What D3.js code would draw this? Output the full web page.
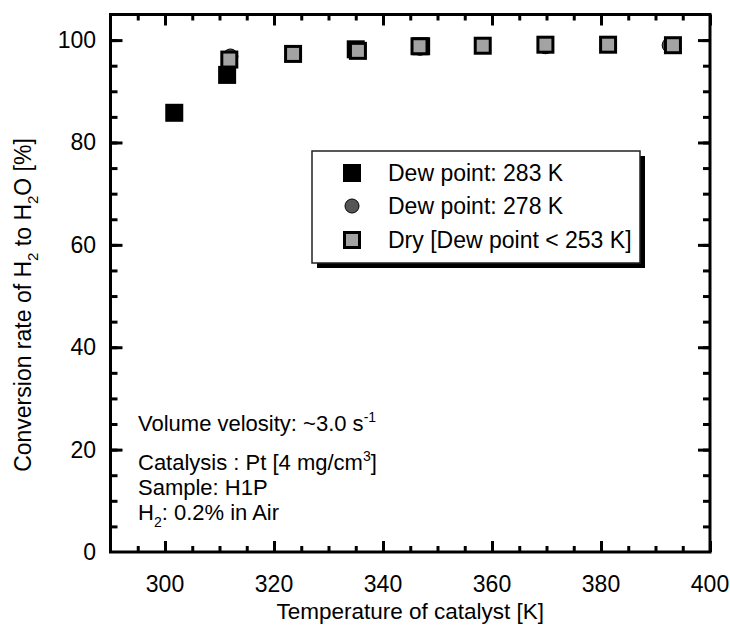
<!DOCTYPE html>
<html>
<head>
<meta charset="utf-8">
<script src="https://cdn.jsdelivr.net/npm/d3@7"></script>
<style>
  body { margin: 0; background: #fff; }
  text { font-family: "Liberation Sans", Arial, sans-serif; fill: #000; }
</style>
</head>
<body>
<div id="chart"></div>
<script>
// data
var dew283Temp = [301.7, 311.4, 335.0, 347.0];
var dew283Conv = [85.8, 93.2, 98.2, 98.8];
var dew278Temp = [312.0, 346.8, 369.8, 392.6];
var dew278Conv = [96.8, 98.5, 98.8, 99.0];
var dryTemp = [311.8, 323.5, 335.4, 346.7, 358.3, 369.8, 381.3, 393.2];
var dryConv = [96.2, 97.3, 97.9, 98.8, 98.9, 99.1, 99.1, 99.0];
var xTickLabels = [300, 320, 340, 360, 380, 400];
var yTickLabels = [0, 20, 40, 60, 80, 100];
var legendLabels = ["Dew point: 283 K", "Dew point: 278 K", "Dry [Dew point < 253 K]"];

var svgWidth = 730, svgHeight = 630;
var margin = { top: 14.5, right: 20, bottom: 78, left: 110.5 };
var chartWidth = svgWidth - margin.left - margin.right;
var chartHeight = svgHeight - margin.top - margin.bottom;

var svg = d3.select("#chart").append("svg")
    .attr("width", svgWidth)
    .attr("height", svgHeight);

var chartGroup = svg.append("g")
    .attr("transform", "translate(" + margin.left + "," + margin.top + ")");

var x = d3.scaleLinear().domain([290, 400]).range([0, chartWidth]);
var y = d3.scaleLinear().domain([0, 105]).range([chartHeight, 0]);

// ticks pointing inward on all four sides
function drawTicks(axisFn, scale, values, size, transform) {
    var g = chartGroup.append("g")
        .attr("transform", transform)
        .call(axisFn(scale).tickValues(values).tickSize(size).tickFormat(""));
    g.select(".domain").remove();
    g.selectAll("line").attr("stroke", "#000").attr("stroke-width", 3);
}
var xMinor = d3.range(295, 400, 5);
var xMajor = d3.range(300, 401, 20);
var yMinor = d3.range(5, 105, 5);
var yMajor = d3.range(20, 101, 20);

drawTicks(d3.axisBottom, x, xMinor, -6, "translate(0," + chartHeight + ")");
drawTicks(d3.axisBottom, x, xMajor, -11, "translate(0," + chartHeight + ")");
drawTicks(d3.axisTop, x, xMinor, -6, "translate(0,0)");
drawTicks(d3.axisTop, x, xMajor, -11, "translate(0,0)");
drawTicks(d3.axisLeft, y, yMinor, -7, "translate(0,0)");
drawTicks(d3.axisLeft, y, yMajor, -12, "translate(0,0)");
drawTicks(d3.axisRight, y, yMinor, -7, "translate(" + chartWidth + ",0)");
drawTicks(d3.axisRight, y, yMajor, -12, "translate(" + chartWidth + ",0)");

// frame
chartGroup.append("rect")
    .attr("x", 0).attr("y", 0)
    .attr("width", chartWidth).attr("height", chartHeight)
    .attr("fill", "none").attr("stroke", "#000").attr("stroke-width", 3);

// tick labels
chartGroup.selectAll(".xlab").data(xTickLabels).enter().append("text")
    .attr("x", function (d) { return x(d); })
    .attr("y", chartHeight + 40)
    .attr("text-anchor", "middle")
    .attr("font-size", "23px")
    .text(function (d) { return d; });

chartGroup.selectAll(".ylab").data(yTickLabels).enter().append("text")
    .attr("x", -14.5)
    .attr("y", function (d) { return y(d) + 8; })
    .attr("text-anchor", "end")
    .attr("font-size", "23px")
    .text(function (d) { return d; });

// axis titles
svg.append("text")
    .attr("x", margin.left + chartWidth / 2)
    .attr("y", 619)
    .attr("text-anchor", "middle")
    .attr("font-size", "22.5px")
    .text("Temperature of catalyst [K]");

var yTitle = svg.append("text")
    .attr("transform", "translate(31,305) rotate(-90)")
    .attr("text-anchor", "middle")
    .attr("font-size", "23px");
yTitle.append("tspan").text("Conversion rate of H");
yTitle.append("tspan").attr("font-size", "15px").attr("dy", 7).text("2");
yTitle.append("tspan").attr("dy", -7).text(" to H");
yTitle.append("tspan").attr("font-size", "15px").attr("dy", 7).text("2");
yTitle.append("tspan").attr("dy", -7).text("O [%]");

// markers
var sq = 18, sqIn = 15, circR = 7.5;
var dew283 = dew283Temp.map(function (t, i) { return { t: t, c: dew283Conv[i] }; });
var dew278 = dew278Temp.map(function (t, i) { return { t: t, c: dew278Conv[i] }; });
var dry = dryTemp.map(function (t, i) { return { t: t, c: dryConv[i] }; });

chartGroup.selectAll(".blk").data(dew283).enter().append("rect")
    .attr("x", function (d) { return x(d.t) - sq / 2; })
    .attr("y", function (d) { return y(d.c) - sq / 2; })
    .attr("width", sq).attr("height", sq)
    .attr("fill", "#000");

chartGroup.selectAll(".circ").data(dew278).enter().append("circle")
    .attr("cx", function (d) { return x(d.t); })
    .attr("cy", function (d) { return y(d.c); })
    .attr("r", circR)
    .attr("fill", "#555").attr("stroke", "#000").attr("stroke-width", 1);

chartGroup.selectAll(".dry").data(dry).enter().append("rect")
    .attr("x", function (d) { return x(d.t) - sqIn / 2; })
    .attr("y", function (d) { return y(d.c) - sqIn / 2; })
    .attr("width", sqIn).attr("height", sqIn)
    .attr("fill", "#a3a3a3").attr("stroke", "#000").attr("stroke-width", 3);

// legend
var lx = 312, ly = 151, lw = 328, lh = 112;
svg.append("rect").attr("x", lx + 5).attr("y", ly + 5)
    .attr("width", lw).attr("height", lh).attr("fill", "#000");
svg.append("rect").attr("x", lx).attr("y", ly)
    .attr("width", lw).attr("height", lh)
    .attr("fill", "#fff").attr("stroke", "#222").attr("stroke-width", 1.5);

var rowY = [173, 206, 240];
var legend = svg.selectAll(".leg").data(legendLabels).enter().append("g")
    .attr("transform", function (d, i) { return "translate(" + (lx + 40) + "," + rowY[i] + ")"; });
legend.append("text")
    .attr("x", 36).attr("y", 8)
    .attr("font-size", "23px")
    .text(function (d) { return d; });
legend.filter(function (d, i) { return i === 0; }).append("rect")
    .attr("x", -9).attr("y", -9).attr("width", 18).attr("height", 18).attr("fill", "#000");
legend.filter(function (d, i) { return i === 1; }).append("circle")
    .attr("r", 7).attr("fill", "#555").attr("stroke", "#000").attr("stroke-width", 1);
legend.filter(function (d, i) { return i === 2; }).append("rect")
    .attr("x", -7.5).attr("y", -7.5).attr("width", 15).attr("height", 15)
    .attr("fill", "#a3a3a3").attr("stroke", "#000").attr("stroke-width", 3);

// annotations
var noteX = 138, noteSize = "22px";
var n1 = svg.append("text").attr("x", noteX).attr("y", 431).attr("font-size", noteSize);
n1.append("tspan").text("Volume velosity: ~3.0 s");
n1.append("tspan").attr("font-size", "14px").attr("dy", -9).text("-1");

var n2 = svg.append("text").attr("x", noteX).attr("y", 470).attr("font-size", noteSize);
n2.append("tspan").text("Catalysis : Pt [4 mg/cm");
n2.append("tspan").attr("font-size", "14px").attr("dy", -9).text("3");
n2.append("tspan").attr("dy", 9).text("]");

svg.append("text").attr("x", noteX).attr("y", 495).attr("font-size", noteSize).text("Sample: H1P");

var n4 = svg.append("text").attr("x", noteX).attr("y", 520).attr("font-size", noteSize);
n4.append("tspan").text("H");
n4.append("tspan").attr("font-size", "14px").attr("dy", 7).text("2");
n4.append("tspan").attr("dy", -7).text(": 0.2% in Air");
</script>
</body>
</html>
